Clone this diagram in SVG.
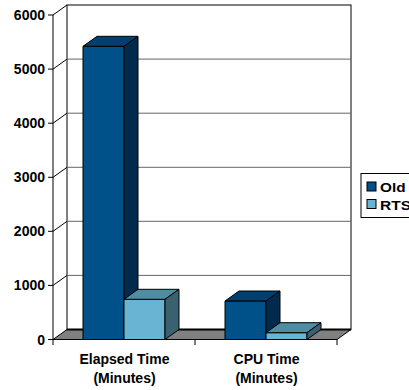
<svg xmlns="http://www.w3.org/2000/svg" width="409" height="390" viewBox="0 0 409 390">
  <style>
    .ax { stroke: #000; stroke-width: 1; fill: none; }
    .grid { stroke: #666; stroke-width: 1; fill: none; }
    .lbl { font-family: "Liberation Sans", Arial, sans-serif; font-weight: bold; font-size: 14px; fill: #000; }
    .leg { font-family: "Liberation Sans", Arial, sans-serif; font-weight: bold; font-size: 13.5px; fill: #000; }
    .bar { stroke: #000; stroke-width: 1; stroke-linejoin: round; }
    .oldF { fill: #00508A; } .oldT { fill: #003F6E; } .oldS { fill: #002B4D; }
    .rtsF { fill: #68B4D2; } .rtsT { fill: #4E8EA3; } .rtsS { fill: #3A616F; }
  </style>
  <rect width="409" height="390" fill="#fff"/>

  <!-- walls, floor and gridlines -->
  <g id="axes">
    <rect x="67" y="5" width="284" height="324.5" fill="#fff" class="ax"/>
    <g class="grid">
      <line x1="67" y1="59.1" x2="351" y2="59.1"/>
      <line x1="67" y1="113.2" x2="351" y2="113.2"/>
      <line x1="67" y1="167.3" x2="351" y2="167.3"/>
      <line x1="67" y1="221.3" x2="351" y2="221.3"/>
      <line x1="67" y1="275.4" x2="351" y2="275.4"/>
    </g>
    <g class="ax">
      <line x1="53" y1="15" x2="67" y2="5"/>
      <line x1="53" y1="69.1" x2="67" y2="59.1"/>
      <line x1="53" y1="123.2" x2="67" y2="113.2"/>
      <line x1="53" y1="177.3" x2="67" y2="167.3"/>
      <line x1="53" y1="231.3" x2="67" y2="221.3"/>
      <line x1="53" y1="285.4" x2="67" y2="275.4"/>
    </g>
    <polygon points="53,339.5 337,339.5 351,329.5 67,329.5" fill="#808080" stroke="#000" stroke-width="1"/>
    <line x1="67" y1="329.5" x2="351" y2="329.5" stroke="#000" stroke-width="2"/>
    <g class="ax">
      <line x1="53" y1="15" x2="53" y2="339.5"/>
      <line x1="48" y1="15" x2="53" y2="15"/>
      <line x1="48" y1="69.1" x2="53" y2="69.1"/>
      <line x1="48" y1="123.2" x2="53" y2="123.2"/>
      <line x1="48" y1="177.3" x2="53" y2="177.3"/>
      <line x1="48" y1="231.3" x2="53" y2="231.3"/>
      <line x1="48" y1="285.4" x2="53" y2="285.4"/>
      <line x1="48" y1="339.5" x2="53" y2="339.5"/>
      <line x1="53" y1="339.5" x2="53" y2="345"/>
      <line x1="195" y1="339.5" x2="195" y2="345"/>
      <line x1="337" y1="339.5" x2="337" y2="345"/>
    </g>
    <g class="lbl" text-anchor="end">
      <text x="45" y="20">6000</text>
      <text x="45" y="74.1">5000</text>
      <text x="45" y="128.2">4000</text>
      <text x="45" y="182.3">3000</text>
      <text x="45" y="236.3">2000</text>
      <text x="45" y="290.4">1000</text>
      <text x="45" y="344.5">0</text>
    </g>
    <g class="lbl" text-anchor="middle">
      <text x="124.5" y="363.5">Elapsed Time</text>
      <text x="124.5" y="382.5">(Minutes)</text>
      <text x="266.5" y="363.5">CPU Time</text>
      <text x="266.5" y="382.5">(Minutes)</text>
    </g>
  </g>

  <!-- Elapsed Time bars -->
  <g id="bar-elapsed-old" class="bar">
    <polygon class="oldF" points="83,46.3 124,46.3 124,339.5 83,339.5"/>
    <polygon class="oldT" points="83,46.3 97,36.3 138,36.3 124,46.3"/>
    <polygon class="oldS" points="124,46.3 138,36.3 138,329.5 124,339.5"/>
  </g>
  <g id="bar-elapsed-rts" class="bar">
    <polygon class="rtsF" points="124,299.3 165,299.3 165,339.5 124,339.5"/>
    <polygon class="rtsT" points="124,299.3 138,289.3 179,289.3 165,299.3"/>
    <polygon class="rtsS" points="165,299.3 179,289.3 179,329.5 165,339.5"/>
  </g>

  <!-- CPU Time bars -->
  <g id="bar-cpu-old" class="bar">
    <polygon class="oldF" points="225,301 266,301 266,339.5 225,339.5"/>
    <polygon class="oldT" points="225,301 239,291 280,291 266,301"/>
    <polygon class="oldS" points="266,301 280,291 280,329.5 266,339.5"/>
  </g>
  <g id="bar-cpu-rts" class="bar">
    <polygon class="rtsF" points="266,332.7 307,332.7 307,339.5 266,339.5"/>
    <polygon class="rtsT" points="266,332.7 280,322.7 321,322.7 307,332.7"/>
    <polygon class="rtsS" points="307,332.7 321,322.7 321,329.5 307,339.5"/>
  </g>

  <!-- legend -->
  <g id="legend">
    <rect x="361" y="173.5" width="60" height="44" fill="#fff" stroke="#000" stroke-width="1"/>
    <rect x="367" y="182" width="9" height="9" fill="#00508A" stroke="#000" stroke-width="1"/>
    <text class="leg" x="380" y="191.5" textLength="25.5" lengthAdjust="spacingAndGlyphs">Old</text>
    <rect x="367" y="199.5" width="9" height="9" fill="#68B4D2" stroke="#000" stroke-width="1"/>
    <text class="leg" x="380" y="209.5" textLength="31" lengthAdjust="spacingAndGlyphs">RTS</text>
  </g>
</svg>
